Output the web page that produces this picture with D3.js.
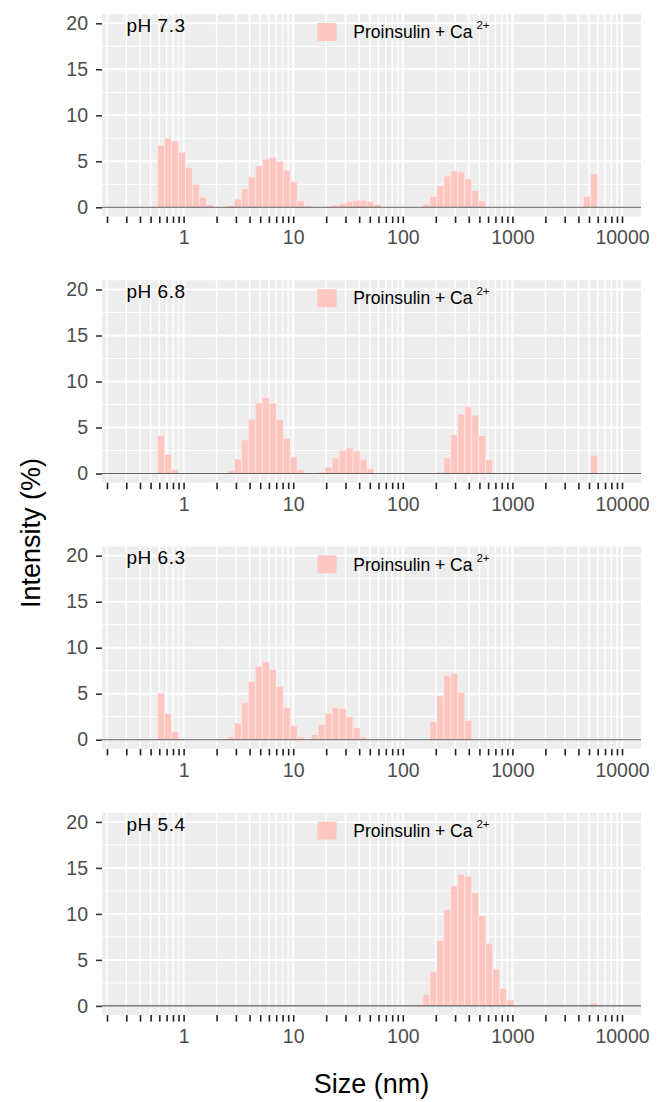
<!DOCTYPE html>
<html>
<head>
    <meta charset="UTF-8"/>
    <style>
        body {
            margin: 0;
            background: white;
            font-family: "Liberation Sans", Arial, Helvetica, sans-serif;
        }
    </style>
</head>
<body>
<script src="https://d3js.org/d3.v7.min.js"></script>
<div id="my_dataviz"></div>
<script>

    // size classes of the DLS instrument (nm)
    var sizeBins = [0.4, 0.4632, 0.5365, 0.6213, 0.7195, 0.8332, 0.9649, 1.117, 1.294, 1.499,
        1.736, 2.01, 2.328, 2.696, 3.122, 3.615, 4.187, 4.849, 5.615, 6.503,
        7.531, 8.721, 10.1, 11.7, 13.54, 15.69, 18.17, 21.04, 24.36, 28.21,
        32.67, 37.84, 43.82, 50.75, 58.77, 68.06, 78.82, 91.28, 105.7, 122.4,
        141.8, 164.2, 190.1, 220.2, 255.0, 295.3, 342.0, 396.1, 458.7, 531.2,
        615.1, 712.4, 825.0, 955.4, 1106, 1281, 1484, 1718, 1990, 2305,
        2669, 3091, 3580, 4145, 4801, 5560, 6439, 7456, 8635, 10000];

    var phLabels = ["pH 7.3", "pH 6.8", "pH 6.3", "pH 5.4"];

    // intensity (%) per size class
    var intensityPH73 = [0, 0, 0, 6.7, 7.5, 7.2, 6.0, 4.3, 2.5, 1.1,
        0.25, 0, 0, 0.2, 0.9, 2.0, 3.3, 4.5, 5.25, 5.45,
        5.0, 4.05, 2.8, 0.7, 0.15, 0, 0, 0.05, 0.25, 0.4,
        0.6, 0.75, 0.75, 0.6, 0.3, 0, 0, 0, 0, 0,
        0, 0.35, 1.2, 2.35, 3.4, 3.95, 3.85, 3.1, 1.85, 0.7,
        0, 0, 0, 0, 0, 0, 0, 0, 0, 0,
        0, 0, 0, 0, 1.2, 3.65, 0, 0, 0, 0];

    var intensityPH68 = [0, 0, 0, 4.15, 2.05, 0.45, 0, 0, 0, 0,
        0, 0, 0, 0.3, 1.57, 3.65, 5.9, 7.65, 8.25, 7.65,
        5.9, 3.8, 1.8, 0.45, 0, 0, 0.15, 0.7, 1.7, 2.5,
        2.8, 2.45, 1.55, 0.5, 0, 0, 0, 0, 0, 0,
        0, 0, 0, 0.15, 1.7, 4.2, 6.45, 7.25, 6.35, 4.1,
        1.5, 0, 0, 0, 0, 0, 0, 0, 0, 0,
        0, 0, 0, 0, 0, 2.0, 0, 0, 0, 0];

    var intensityPH63 = [0, 0, 0, 5.05, 2.85, 0.9, 0, 0, 0, 0,
        0, 0, 0, 0.3, 1.8, 4.0, 6.35, 8.0, 8.45, 7.6,
        5.8, 3.5, 1.55, 0.3, 0, 0.55, 1.65, 2.9, 3.5, 3.4,
        2.5, 1.3, 0.3, 0, 0, 0, 0, 0, 0, 0,
        0, 0, 1.95, 4.75, 6.95, 7.2, 5.15, 2.1, 0, 0,
        0, 0, 0, 0, 0, 0, 0, 0, 0, 0,
        0, 0, 0, 0, 0, 0, 0, 0, 0, 0];

    var intensityPH54 = [0, 0, 0, 0, 0, 0, 0, 0, 0, 0,
        0, 0, 0, 0, 0, 0, 0, 0, 0, 0,
        0, 0, 0, 0, 0, 0, 0, 0, 0, 0,
        0, 0, 0, 0, 0, 0, 0, 0, 0, 0,
        0.1, 1.25, 3.7, 7.1, 10.5, 13.05, 14.3, 14.1, 12.35, 9.8,
        6.8, 4.0, 1.9, 0.65, 0, 0, 0, 0, 0, 0,
        0, 0, 0, 0, 0.15, 0.3, 0, 0, 0, 0];

    var yTicks = [0, 5, 10, 15, 20];
    var yMinor = [2.5, 7.5, 12.5, 17.5];
    var xDecades = [1, 10, 100, 1000, 10000];
    var legendLabel = "Proinsulin + Ca";
    var legendSup = "2+";

    var panels = [intensityPH73, intensityPH68, intensityPH63, intensityPH54];

    var width = 657, height = 1102;
    var panelLeft = 102, panelRight = 641;
    var panelStep = 266.2;
    var fillColor = "#FDC6C1";
    var tickColor = "#4D4D4D";

    var svg = d3.select("#my_dataviz")
        .append("svg")
        .attr("width", width)
        .attr("height", height);

    var x = d3.scaleLog()
        .domain([Math.pow(10, -0.7445), Math.pow(10, 4.1734)])
        .range([panelLeft, panelRight]);

    var y = d3.scaleLinear()
        .domain([-1, 21])
        .range([216.5, 14.1]);

    // log ticks 2..10 for each decade that is inside the panel
    var logTicks = [];
    [0.1, 1, 10, 100, 1000].forEach(function(d) {
        for (var k = 2; k <= 10; k++) logTicks.push(d * k);
    });

    // edges of each size class (geometric midpoints)
    function binEdges(i) {
        var s = sizeBins;
        var lo = i > 0 ? Math.sqrt(s[i - 1] * s[i]) : s[i] / Math.sqrt(s[1] / s[0]);
        var hi = i < s.length - 1 ? Math.sqrt(s[i] * s[i + 1]) : s[i] * Math.sqrt(s[i] / s[i - 1]);
        return [lo, hi];
    }

    panels.forEach(function(values, p) {
        var g = svg.append("g")
            .attr("transform", "translate(0," + (p * panelStep) + ")");

        // panel background
        g.append("rect")
            .attr("x", panelLeft)
            .attr("y", y(21))
            .attr("width", panelRight - panelLeft)
            .attr("height", y(-1) - y(21))
            .attr("fill", "#EDEDED");

        // grid
        g.selectAll(".hminor")
            .data(yMinor)
            .enter()
            .append("line")
            .attr("x1", panelLeft).attr("x2", panelRight)
            .attr("y1", function(d) { return y(d); })
            .attr("y2", function(d) { return y(d); })
            .attr("stroke", "white").attr("stroke-width", 1);

        g.selectAll(".hmajor")
            .data(yTicks)
            .enter()
            .append("line")
            .attr("x1", panelLeft).attr("x2", panelRight)
            .attr("y1", function(d) { return y(d); })
            .attr("y2", function(d) { return y(d); })
            .attr("stroke", "white").attr("stroke-width", 2);

        g.selectAll(".vgrid")
            .data(logTicks)
            .enter()
            .append("line")
            .attr("x1", function(d) { return x(d); })
            .attr("x2", function(d) { return x(d); })
            .attr("y1", y(21)).attr("y2", y(-1))
            .attr("stroke", "white")
            .attr("stroke-width", function(d) { return xDecades.indexOf(d) >= 0 ? 2 : 1.4; });

        // bars
        g.selectAll(".bar")
            .data(values.map(function(v, i) { return {i: i, v: v}; }).filter(function(d) { return d.v > 0; }))
            .enter()
            .append("rect")
            .attr("x", function(d) { return x(binEdges(d.i)[0]); })
            .attr("width", function(d) { var e = binEdges(d.i); return x(e[1]) - x(e[0]); })
            .attr("y", function(d) { return y(d.v); })
            .attr("height", function(d) { return y(0) - y(d.v); })
            .attr("fill", fillColor)
            .attr("stroke", "#FFEDEB")
            .attr("stroke-width", 0.6);

        // zero line
        g.append("line")
            .attr("x1", panelLeft).attr("x2", panelRight)
            .attr("y1", y(0)).attr("y2", y(0))
            .attr("stroke", "#5A5A5A").attr("stroke-width", 1.1);

        // y axis
        var yAxis = g.append("g")
            .attr("transform", "translate(" + panelLeft + ",0)")
            .call(d3.axisLeft(y).tickValues(yTicks).tickSize(6).tickPadding(8));
        yAxis.select(".domain").remove();
        yAxis.selectAll("line").attr("stroke", "#333").attr("stroke-width", 1.6);
        yAxis.selectAll("text")
            .attr("fill", tickColor)
            .style("font-size", "19.5px")
            .style("font-family", "'Liberation Sans', Arial, sans-serif");

        // x axis with log ticks
        var xAxis = g.append("g")
            .attr("transform", "translate(0," + y(-1) + ")")
            .call(d3.axisBottom(x).tickValues(logTicks).tickSize(6.5).tickPadding(7.5)
                .tickFormat(function(d) { return xDecades.indexOf(d) >= 0 ? d : ""; }));
        xAxis.select(".domain").remove();
        xAxis.selectAll("line").attr("stroke", "#222").attr("stroke-width", 1.6);
        xAxis.selectAll("text")
            .attr("fill", tickColor)
            .style("font-size", "19.5px")
            .style("font-family", "'Liberation Sans', Arial, sans-serif");

        // pH label
        g.append("text")
            .attr("x", 126.5)
            .attr("y", 32)
            .text(phLabels[p])
            .attr("font-size", "19px")
            .attr("letter-spacing", "0.5px")
            .attr("fill", "black");

        // legend
        g.append("rect")
            .attr("x", 317.5).attr("y", 23)
            .attr("width", 19).attr("height", 18)
            .attr("fill", fillColor);

        var lt = g.append("text")
            .attr("x", 353.3)
            .attr("y", 38.3)
            .attr("font-size", "17.5px")
            .attr("fill", "black");
        lt.append("tspan").text(legendLabel);
        lt.append("tspan")
            .attr("dx", 4).attr("dy", -9)
            .attr("font-size", "11.5px")
            .text(legendSup);
    });

    // axis titles
    svg.append("text")
        .attr("transform", "translate(40," + 533 + ") rotate(-90)")
        .attr("text-anchor", "middle")
        .attr("font-size", "27px")
        .attr("fill", "black")
        .text("Intensity (%)");

    svg.append("text")
        .attr("x", (panelLeft + panelRight) / 2)
        .attr("y", 1093)
        .attr("text-anchor", "middle")
        .attr("font-size", "27px")
        .attr("fill", "black")
        .text("Size (nm)");

</script>
</body>
</html>
